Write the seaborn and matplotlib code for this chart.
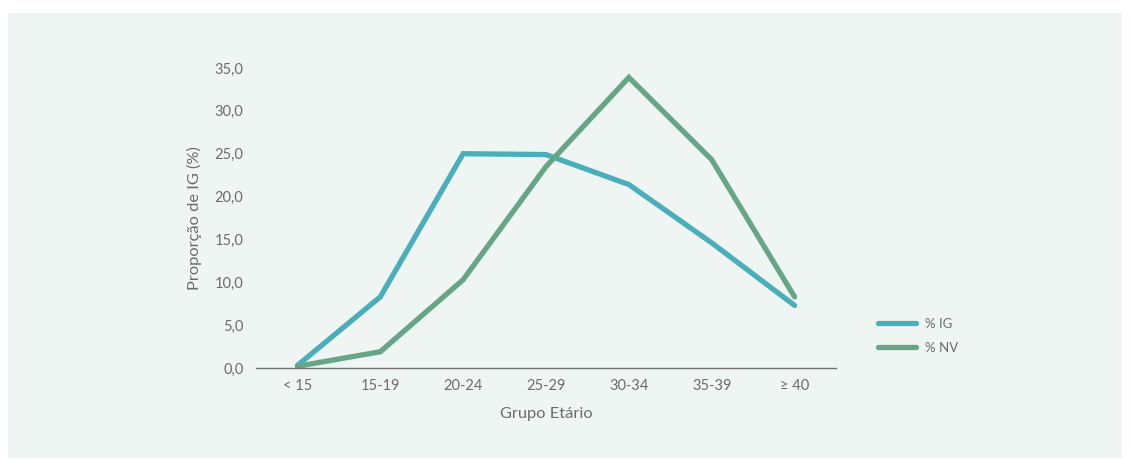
import matplotlib
matplotlib.use("Agg")
import matplotlib.pyplot as plt
import matplotlib.patches as mpatches
from matplotlib.ticker import FuncFormatter, MultipleLocator
import seaborn as sns
import pandas as pd

# Age groups and percentages per series
grupos = ["< 15", "15-19", "20-24", "25-29", "30-34", "35-39", "≥ 40"]
pct_ig = [0.3, 8.3, 25.0, 24.9, 21.4, 14.6, 7.3]
pct_nv = [0.2, 1.9, 10.3, 23.5, 33.9, 24.3, 8.3]
series = ["% IG", "% NV"]

colors = {"% IG": "#4aafbb", "% NV": "#66a586"}
bg = "#eff5f2"
txt = "#6b6b6b"

df = pd.DataFrame({
    "Grupo": grupos * 2,
    "pos": list(range(len(grupos))) * 2,
    "valor": pct_ig + pct_nv,
    "serie": [series[0]] * len(grupos) + [series[1]] * len(grupos),
})

sns.set_theme(style="white")
plt.rcParams["font.family"] = ["Lato", "DejaVu Sans"]

fig = plt.figure(figsize=(11.32, 4.59), dpi=100)
fig.patch.set_facecolor("white")
fig.patches.append(mpatches.Rectangle((8 / 1132, 1 / 459), 1114 / 1132, 445 / 459,
                                      transform=fig.transFigure, facecolor=bg,
                                      edgecolor="none", zorder=-10))

ax = fig.add_axes([256 / 1132, 91 / 459, 580 / 1132, 300 / 459])
ax.set_facecolor("none")
ax.set_zorder(5)

sns.lineplot(data=df, x="pos", y="valor", hue="serie", palette=colors,
             linewidth=3.8, ax=ax, legend=False, sort=False)
for ln in ax.lines:
    ln.set_solid_capstyle("round")
    ln.set_solid_joinstyle("miter")
    ln.set_clip_on(False)

ax.set_xlim(-0.5, len(grupos) - 0.5)
ax.set_ylim(0, 35)
ax.set_xticks(range(len(grupos)))
ax.set_xticklabels(grupos)
ax.yaxis.set_major_locator(MultipleLocator(5))
ax.yaxis.set_major_formatter(FuncFormatter(lambda v, p: f"{v:.1f}".replace(".", ",")))
ax.tick_params(axis="both", length=0, labelsize=10.5, colors=txt)
ax.tick_params(axis="x", pad=8)
ax.tick_params(axis="y", pad=9)

for s in ["top", "right", "left"]:
    ax.spines[s].set_visible(False)
ax.spines["bottom"].set_color("#707070")
ax.spines["bottom"].set_linewidth(1.0)

ax.set_xlabel("Grupo Etário", fontsize=11.8, color=txt, labelpad=10)
ax.set_ylabel("Proporção de IG (%)", fontsize=11.8, color=txt, labelpad=9)

handles = [plt.Line2D([0], [0], color=colors[s], lw=3.8, solid_capstyle="round") for s in series]
leg = fig.legend(handles, series, loc="center left", bbox_to_anchor=(866 / 1132, 1 - 336 / 459),
                 frameon=False, fontsize=9.5, handlelength=2.9, handletextpad=0.7,
                 labelspacing=0.9, labelcolor=txt)

fig.savefig("out.png", dpi=100, facecolor="white")
